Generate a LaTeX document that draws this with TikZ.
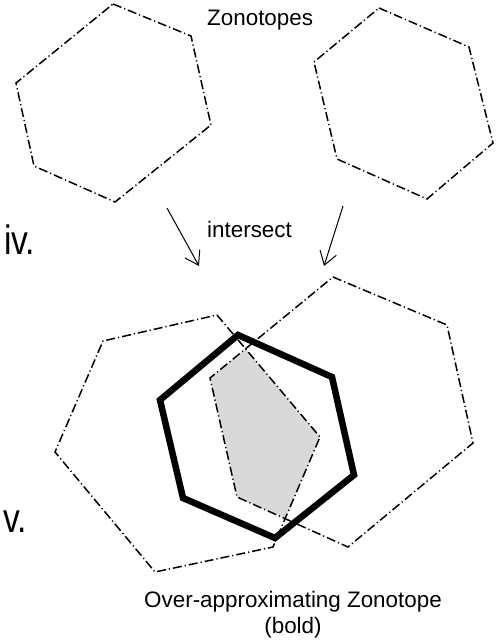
\documentclass[tikz,border=0pt]{standalone}
\usepackage{fontspec}
\setmainfont{Liberation Sans}
\usetikzlibrary{arrows.meta}

\begin{document}
\begin{tikzpicture}[x=1pt,y=-1pt,
    zono/.style={line width=1.5pt,dash pattern=on 9pt off 3pt on 1.2pt off 3pt},
    boldzono/.style={line width=6.5pt},
    lbl/.style={inner sep=0pt,font=\fontsize{22.4}{26}\selectfont},
    roman/.style={inner sep=0pt,anchor=base west,font=\fontsize{41}{41}\selectfont},
    arr/.style={-{Straight Barb[length=13pt,width=17pt]},line width=1pt}]
\useasboundingbox (0,0) rectangle (499,642);

% iv. two zonotopes
\draw[zono] (113,4)--(191,36)--(211,125)--(115,202)--(34,166)--(16,83)--cycle;
\draw[zono] (379,8)--(469,47)--(493,143)--(427,199)--(337,159)--(314,62)--cycle;
\node[lbl,anchor=base west] (zonotopes) at (207,26) {Zonotopes};
\node[roman] (iv) at (4,254) {\scalebox{0.82}[1]{iv.}};

\coordinate (lefttail) at (167,208);
\coordinate (lefthead) at (199,266);
\coordinate (righttail) at (343,206);
\coordinate (righthead) at (324,266);
\draw[arr] (lefttail) -- (lefthead);
\draw[arr] (righttail) -- (righthead);
\node[lbl,anchor=base west] (intersect) at (207,237) {intersect};

% v. the intersection
\begin{scope}
    \clip (217,315)--(320,437)--(273,547)--(155,572)--(55,452)--(103,341)--cycle;
    \fill[black!15] (333,277)--(447,325)--(473,443)--(348,547)--(237,497)--(210,378)--cycle;
\end{scope}
\draw[zono] (217,315)--(320,437)--(273,547)--(155,572)--(55,452)--(103,341)--cycle;
\draw[zono] (333,277)--(447,325)--(473,443)--(348,547)--(237,497)--(210,378)--cycle;
\draw[boldzono] (238,335)--(332,377)--(354,475)--(275,538)--(183,498)--(160,400)--cycle;
\node[roman] (v) at (3,532) {\scalebox{0.82}[1]{v.}};

\node[lbl,anchor=base] (overapprox) at (293,607) {Over-approximating Zonotope};
\node[lbl,anchor=base] (boldnote) at ([yshift=-26pt]overapprox.base) {(bold)};
\end{tikzpicture}
\end{document}
